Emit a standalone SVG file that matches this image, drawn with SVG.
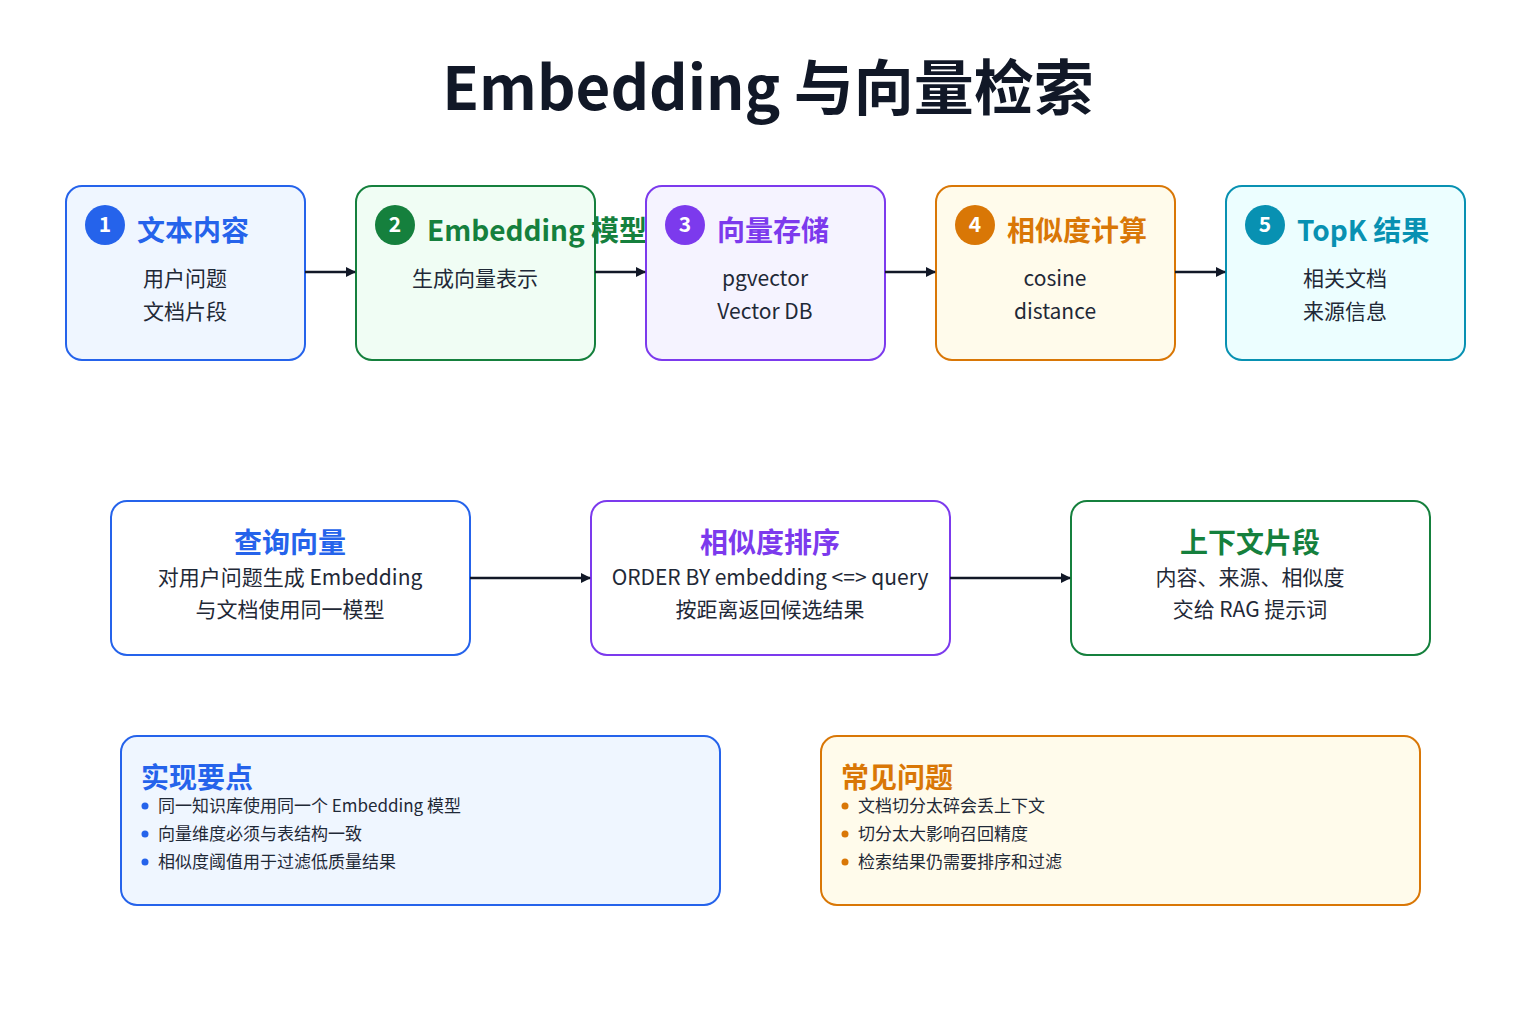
<svg xmlns="http://www.w3.org/2000/svg" width="1536" height="1024" viewBox="0 0 1536 1024">
<style>
text{font-family:"Noto Sans CJK SC","Noto Sans",sans-serif;}
.t{font-size:28px;font-weight:700}
.b{font-size:21px;fill:#1f2937;text-anchor:middle}
.n{font-size:21px;fill:#fff;text-anchor:middle;font-weight:700}
.s{font-size:17px;fill:#1f2937}
.box{stroke-width:2}
.con{stroke:#111827;stroke-width:2.5;fill:none;marker-end:url(#ah)}
</style>
<defs><marker id="ah" markerWidth="10" markerHeight="10" refX="9" refY="5" orient="auto" markerUnits="userSpaceOnUse"><path d="M0,0 L10,5 L0,10 z" fill="#111827"/></marker></defs>
<rect width="1536" height="1024" fill="#fff"/>
<text x="768" y="110" text-anchor="middle" style="font-size:60px;font-weight:700;fill:#111827">Embedding 与向量检索</text>
<g id="n1"><rect class="box" x="66" y="186" width="239" height="174" rx="16" fill="#eff6ff" stroke="#2563eb"/><circle cx="105" cy="225" r="20" fill="#2563eb"/><text class="n" x="105" y="232">1</text><text class="t" x="137" y="241" fill="#2563eb">文本内容</text><text class="b" x="185" y="286">用户问题</text><text class="b" x="185" y="319">文档片段</text></g>
<g id="n2"><rect class="box" x="356" y="186" width="239" height="174" rx="16" fill="#f0fdf4" stroke="#15803d"/><circle cx="395" cy="225" r="20" fill="#15803d"/><text class="n" x="395" y="232">2</text><text class="t" x="427" y="241" fill="#15803d">Embedding 模型</text><text class="b" x="475" y="286">生成向量表示</text></g>
<g id="n3"><rect class="box" x="646" y="186" width="239" height="174" rx="16" fill="#f5f3ff" stroke="#7c3aed"/><circle cx="685" cy="225" r="20" fill="#7c3aed"/><text class="n" x="685" y="232">3</text><text class="t" x="717" y="241" fill="#7c3aed">向量存储</text><text class="b" x="765" y="286">pgvector</text><text class="b" x="765" y="319">Vector DB</text></g>
<g id="n4"><rect class="box" x="936" y="186" width="239" height="174" rx="16" fill="#fffbeb" stroke="#d97706"/><circle cx="975" cy="225" r="20" fill="#d97706"/><text class="n" x="975" y="232">4</text><text class="t" x="1007" y="241" fill="#d97706">相似度计算</text><text class="b" x="1055" y="286">cosine</text><text class="b" x="1055" y="319">distance</text></g>
<g id="n5"><rect class="box" x="1226" y="186" width="239" height="174" rx="16" fill="#ecfeff" stroke="#0891b2"/><circle cx="1265" cy="225" r="20" fill="#0891b2"/><text class="n" x="1265" y="232">5</text><text class="t" x="1297" y="241" fill="#0891b2">TopK 结果</text><text class="b" x="1345" y="286">相关文档</text><text class="b" x="1345" y="319">来源信息</text></g>
<g id="m1"><rect class="box" x="111" y="501" width="359" height="154" rx="16" fill="#fff" stroke="#2563eb"/><text class="t" x="290" y="553" fill="#2563eb" text-anchor="middle">查询向量</text><text class="b" x="290" y="585">对用户问题生成 Embedding</text><text class="b" x="290" y="617">与文档使用同一模型</text></g>
<g id="m2"><rect class="box" x="591" y="501" width="359" height="154" rx="16" fill="#fff" stroke="#7c3aed"/><text class="t" x="770" y="553" fill="#7c3aed" text-anchor="middle">相似度排序</text><text class="b" x="770" y="585">ORDER BY embedding &lt;=&gt; query</text><text class="b" x="770" y="617">按距离返回候选结果</text></g>
<g id="m3"><rect class="box" x="1071" y="501" width="359" height="154" rx="16" fill="#fff" stroke="#15803d"/><text class="t" x="1250" y="553" fill="#15803d" text-anchor="middle">上下文片段</text><text class="b" x="1250" y="585">内容、来源、相似度</text><text class="b" x="1250" y="617">交给 RAG 提示词</text></g>
<g id="p1"><rect class="box" x="121" y="736" width="599" height="169" rx="16" fill="#eff6ff" stroke="#2563eb"/><text class="t" x="141" y="788" fill="#2563eb">实现要点</text>
<circle cx="145" cy="806" r="3.5" fill="#2563eb"/><text class="s" x="158" y="812">同一知识库使用同一个 Embedding 模型</text>
<circle cx="145" cy="834" r="3.5" fill="#2563eb"/><text class="s" x="158" y="840">向量维度必须与表结构一致</text>
<circle cx="145" cy="862" r="3.5" fill="#2563eb"/><text class="s" x="158" y="868">相似度阈值用于过滤低质量结果</text></g>
<g id="p2"><rect class="box" x="821" y="736" width="599" height="169" rx="16" fill="#fffbeb" stroke="#d97706"/><text class="t" x="841" y="788" fill="#d97706">常见问题</text>
<circle cx="845" cy="806" r="3.5" fill="#d97706"/><text class="s" x="858" y="812">文档切分太碎会丢上下文</text>
<circle cx="845" cy="834" r="3.5" fill="#d97706"/><text class="s" x="858" y="840">切分太大影响召回精度</text>
<circle cx="845" cy="862" r="3.5" fill="#d97706"/><text class="s" x="858" y="868">检索结果仍需要排序和过滤</text></g>
<g id="connectors">
<path class="con" d="M305,272 H355"/><path class="con" d="M595,272 H645"/><path class="con" d="M885,272 H935"/><path class="con" d="M1175,272 H1225"/>
<path class="con" d="M470,578 H590"/><path class="con" d="M950,578 H1070"/>
</g>
</svg>
